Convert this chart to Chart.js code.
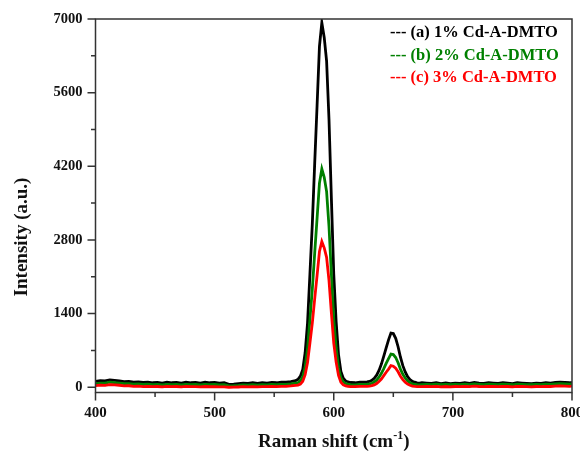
<!DOCTYPE html>
<html>
<head>
<meta charset="utf-8">
<script src="https://cdn.jsdelivr.net/npm/chart.js@4"></script>
<style>
  html, body { margin: 0; padding: 0; background: #fff; }
  #raman { display: block; }
</style>
</head>
<body>
<canvas id="raman" width="580" height="456"></canvas>
<script>
// Raman shift axis (cm-1)
const X_SHIFT = [
  400, 404, 408, 412, 416, 420, 424, 428, 432, 436, 440, 444, 448, 452, 456, 460, 464, 468, 472, 476,
  480, 484, 488, 492, 496, 500, 504, 508, 512, 516, 520, 524, 528, 532, 536, 540, 544, 548, 552, 556,
  560, 564, 568,
  570, 572, 574, 576, 578, 580, 582, 584, 586, 588, 590, 592, 594, 596, 598, 600, 602, 604, 606, 608,
  610, 612, 614,
  618, 622,
  626, 628, 630, 632, 634, 636, 638, 640, 642, 644, 646, 648, 650, 652, 654, 656, 658, 660, 662, 664,
  666, 668, 670, 672, 674,
  678, 682, 686, 690, 694, 698, 702, 706, 710, 714, 718, 722, 726, 730, 734, 738, 742, 746, 750, 754,
  758, 762, 766, 770, 774, 778, 782, 786, 790, 794, 798, 800
];

// (a) 1% Cd-A-DMTO
const INT_1PCT = [
  110, 125, 120, 140, 130, 120, 105, 110, 95, 100, 90, 95, 85, 90, 80, 95, 85, 90, 80, 95,
  85, 90, 80, 95, 85, 90, 80, 85, 55, 60, 70, 80, 75, 85, 75, 85, 80, 90, 85, 95,
  95, 105, 125,
  150, 210, 340, 660, 1220, 2150, 3100, 4250, 5350, 6480, 6930, 6650, 6200, 5100, 3600, 2150, 1250, 620, 300, 170,
  120, 100, 90,
  85, 95,
  95, 100, 110, 130, 170, 230, 320, 440, 590, 750, 900, 1030, 1020, 930, 770, 570, 410, 290, 200, 145,
  110, 95, 85, 80, 85,
  80, 75, 85, 70, 80, 70, 80, 75, 85, 75, 90, 80, 75, 85, 80, 75, 85, 80, 70, 85,
  80, 75, 70, 80, 75, 85, 80, 90, 95, 90, 85, 90
];

// (b) 2% Cd-A-DMTO
const INT_2PCT = [
  70, 80, 78, 95, 88, 80, 68, 70, 58, 62, 52, 58, 50, 52, 45, 55, 48, 52, 45, 55,
  48, 52, 44, 55, 48, 52, 44, 48, 25, 28, 35, 45, 40, 48, 40, 48, 45, 52, 48, 55,
  56, 65, 80,
  85, 125, 200, 390, 730, 1290, 1860, 2550, 3210, 3880, 4150, 3990, 3720, 3060, 2160, 1290, 750, 370, 180, 100,
  70, 58, 50,
  45, 55,
  55, 58, 65, 75, 100, 135, 190, 265, 355, 455, 545, 630, 620, 565, 465, 345, 245, 175, 120, 85,
  62, 55, 48, 45, 48,
  55, 50, 58, 48, 55, 47, 55, 50, 58, 50, 62, 55, 50, 58, 55, 50, 58, 55, 47, 58,
  55, 50, 47, 55, 50, 58, 55, 62, 66, 62, 58, 62
];

// (c) 3% Cd-A-DMTO
const INT_3PCT = [
  30, 40, 35, 50, 45, 38, 25, 28, 18, 20, 12, 18, 10, 14, 8, 15, 10, 14, 8, 15,
  10, 12, 6, 14, 9, 12, 6, 8, 0, 2, 5, 10, 8, 12, 8, 12, 10, 14, 12, 16,
  18, 25, 35,
  40, 60, 115, 240, 470, 840, 1220, 1680, 2120, 2580, 2770, 2650, 2470, 2030, 1420, 840, 480, 225, 95, 45,
  25, 18, 12,
  10, 15,
  15, 18, 22, 30, 45, 70, 110, 155, 220, 285, 345, 410, 400, 360, 295, 210, 145, 95, 60, 38,
  22, 15, 12, 10, 12,
  15, 10, 18, 8, 14, 6, 14, 10, 18, 10, 22, 14, 10, 18, 14, 10, 18, 14, 6, 18,
  14, 10, 6, 14, 10, 18, 14, 22, 26, 22, 18, 22
];

const SERIES_NAMES = ['(a) 1% Cd-A-DMTO', '(b) 2% Cd-A-DMTO', '(c) 3% Cd-A-DMTO'];
const SERIES_COLORS = ['#000000', '#008000', '#ff0000'];

const X_TICKS = [400, 500, 600, 700, 800];
const X_MINOR = [450, 550, 650, 750];
const Y_TICKS = [0, 1400, 2800, 4200, 5600, 7000];
const Y_MINOR = [700, 2100, 3500, 4900, 6300];

const SERIF = '"Liberation Serif", "Times New Roman", serif';
const AXIS_COLOR = '#333333';

function toPoints(values) {
  return X_SHIFT.map((x, i) => ({ x: x, y: values[i] }));
}

// Frame, outward tick marks, axis titles and the text legend
const decorations = {
  id: 'decorations',
  afterDraw(chart) {
    const ctx = chart.ctx;
    const area = chart.chartArea;
    const xs = chart.scales.x;
    const ys = chart.scales.y;

    ctx.save();
    ctx.strokeStyle = AXIS_COLOR;
    ctx.lineWidth = 1.5;
    ctx.strokeRect(area.left, area.top, area.right - area.left, area.bottom - area.top);

    ctx.beginPath();
    X_TICKS.forEach(v => {
      const px = xs.getPixelForValue(v);
      ctx.moveTo(px, area.bottom);
      ctx.lineTo(px, area.bottom + 8);
    });
    X_MINOR.forEach(v => {
      const px = xs.getPixelForValue(v);
      ctx.moveTo(px, area.bottom);
      ctx.lineTo(px, area.bottom + 4.5);
    });
    Y_TICKS.forEach(v => {
      const py = ys.getPixelForValue(v);
      ctx.moveTo(area.left, py);
      ctx.lineTo(area.left - 8, py);
    });
    Y_MINOR.forEach(v => {
      const py = ys.getPixelForValue(v);
      ctx.moveTo(area.left, py);
      ctx.lineTo(area.left - 4.5, py);
    });
    ctx.stroke();

    // axis titles
    ctx.fillStyle = '#111';
    ctx.textBaseline = 'alphabetic';

    const main = 'Raman shift (cm';
    const sup = '-1';
    const close = ')';
    ctx.font = 'bold 19px ' + SERIF;
    const wMain = ctx.measureText(main).width;
    const wClose = ctx.measureText(close).width;
    ctx.font = 'bold 12px ' + SERIF;
    const wSup = ctx.measureText(sup).width;
    const cx = (area.left + area.right) / 2;
    let tx = cx - (wMain + wSup + wClose) / 2;
    const baseY = 447;
    ctx.textAlign = 'left';
    ctx.font = 'bold 19px ' + SERIF;
    ctx.fillText(main, tx, baseY);
    tx += wMain;
    ctx.font = 'bold 12px ' + SERIF;
    ctx.fillText(sup, tx, baseY - 8);
    tx += wSup;
    ctx.font = 'bold 19px ' + SERIF;
    ctx.fillText(close, tx, baseY);

    ctx.save();
    ctx.translate(27, 237);
    ctx.rotate(-Math.PI / 2);
    ctx.textAlign = 'center';
    ctx.fillText('Intensity (a.u.)', 0, 0);
    ctx.restore();

    // legend
    ctx.font = 'bold 16.5px ' + SERIF;
    ctx.textAlign = 'left';
    ctx.textBaseline = 'middle';
    SERIES_NAMES.forEach((name, i) => {
      ctx.fillStyle = SERIES_COLORS[i];
      ctx.fillText('--- ' + name, 390, 33 + i * 22.5);
    });
    ctx.restore();
  }
};

const datasets = [INT_1PCT, INT_2PCT, INT_3PCT].map((values, i) => ({
  label: SERIES_NAMES[i],
  data: toPoints(values),
  borderColor: SERIES_COLORS[i],
  backgroundColor: SERIES_COLORS[i],
  borderWidth: 2.8,
  pointRadius: 0,
  tension: 0,
  fill: false,
  order: i === 0 ? 3 : (i === 1 ? 2 : 1)
}));

new Chart(document.getElementById('raman'), {
  type: 'line',
  data: { datasets: datasets },
  options: {
    responsive: false,
    animation: false,
    devicePixelRatio: 1,
    layout: { padding: { top: 19, right: 8, left: 0, bottom: 0 } },
    plugins: {
      legend: { display: false },
      tooltip: { enabled: false }
    },
    scales: {
      x: {
        type: 'linear',
        min: 400,
        max: 800,
        afterBuildTicks: s => { s.ticks = X_TICKS.map(v => ({ value: v })); },
        afterFit: s => {
          s.height = 63.5;
          s.paddingLeft = 0;
          s.paddingRight = 0;
        },
        grid: { display: false, drawTicks: false },
        border: { display: false },
        ticks: {
          color: '#111',
          font: { family: SERIF, size: 15, weight: 'bold' },
          padding: 12,
          maxRotation: 0,
          callback: v => String(v)
        }
      },
      y: {
        type: 'linear',
        min: -100,
        max: 7000,
        afterBuildTicks: s => { s.ticks = Y_TICKS.map(v => ({ value: v })); },
        afterFit: s => {
          s.width = 95.5;
          s.paddingTop = 0;
          s.paddingBottom = 0;
        },
        grid: { display: false, drawTicks: false },
        border: { display: false },
        ticks: {
          color: '#111',
          font: { family: SERIF, size: 14.5, weight: 'bold' },
          padding: 13,
          callback: v => String(v)
        }
      }
    }
  },
  plugins: [decorations]
});
</script>
</body>
</html>
